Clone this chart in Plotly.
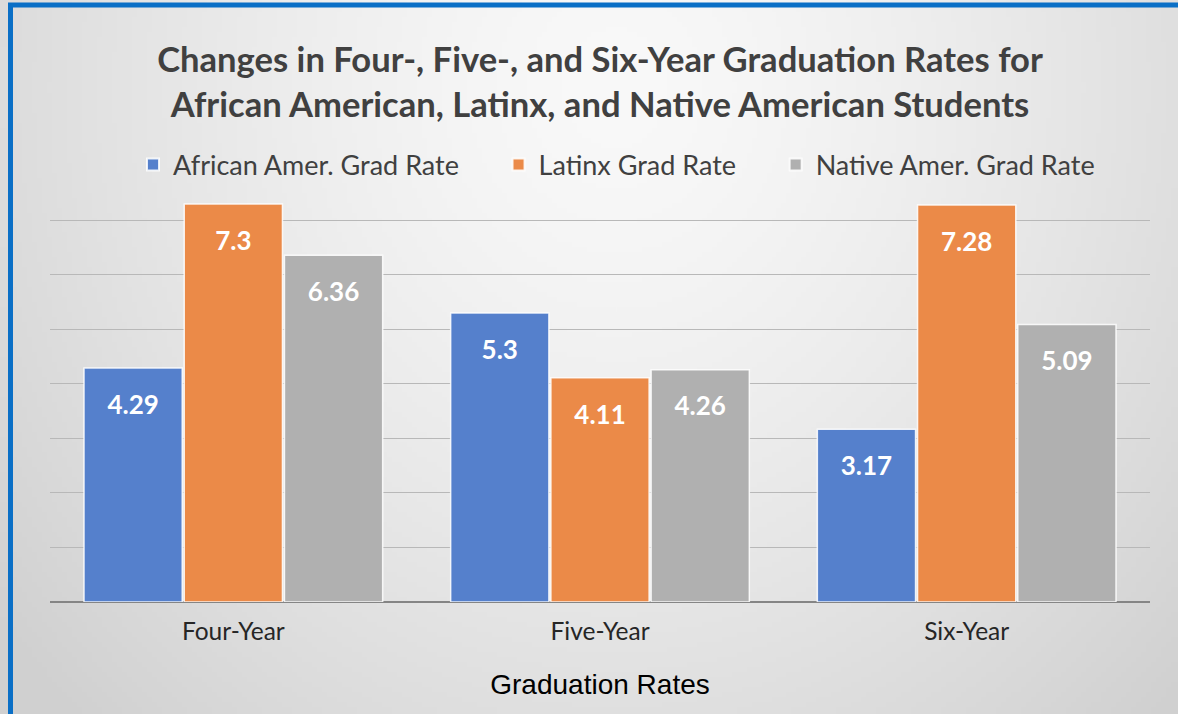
import base64
import struct
import zlib

import plotly.graph_objects as go

# ---------------- data ----------------
categories = ["Four-Year", "Five-Year", "Six-Year"]
african_amer = [4.29, 5.3, 3.17]
latinx = [7.3, 4.11, 7.28]
native_amer = [6.36, 4.26, 5.09]
series_names = ["African Amer. Grad Rate", "Latinx Grad Rate", "Native Amer. Grad Rate"]

title_text = ("Changes in Four-, Five-, and Six-Year Graduation Rates for<br>"
              "African American, Latinx, and Native American Students")
x_title = "Graduation Rates"

# ---------------- layout constants ----------------
W, H = 1178, 714
ML, MR, MT, MB = 50, 28, 193, 112
PW, PH = W - ML - MR, H - MT - MB

colors = ["#5580CC", "#EB8A48", "#B0B0B0"]
legend_pad = "&nbsp;" * 5  # extra spacing after legend entries


def px_x(p):
    return (p - ML) / PW


def px_y(p):
    return (H - MB - p) / PH


# ---------------- background gradient (pure-python PNG) ----------------
def gradient_png(w, h):
    rows = []
    cx, cy = 0.52 * w, 0.12 * h
    rx, ry = 0.62 * w, 1.15 * h
    for j in range(h):
        row = bytearray([0])
        for i in range(w):
            d = (((i - cx) / rx) ** 2 + ((j - cy) / ry) ** 2) ** 0.5
            v = int(max(208, min(249, 249 - 37 * d ** 1.4)))
            row += bytes([v, v, v])
        rows.append(bytes(row))
    raw = b"".join(rows)

    def chunk(t, d):
        return struct.pack(">I", len(d)) + t + d + struct.pack(">I", zlib.crc32(t + d) & 0xFFFFFFFF)

    return (b"\x89PNG\r\n\x1a\n"
            + chunk(b"IHDR", struct.pack(">IIBBBBB", w, h, 8, 2, 0, 0, 0))
            + chunk(b"IDAT", zlib.compress(raw, 9))
            + chunk(b"IEND", b""))


bg_uri = "data:image/png;base64," + base64.b64encode(gradient_png(236, 143)).decode()

# ---------------- figure ----------------
fig = go.Figure()
series_values = [african_amer, latinx, native_amer]
for k, (name, vals, col) in enumerate(zip(series_names, series_values, colors)):
    shown = name + (legend_pad if k < len(series_names) - 1 else "")
    fig.add_trace(go.Bar(
        name=shown,
        x=categories,
        y=vals,
        marker=dict(color=col, line=dict(color="rgba(255,255,255,0.85)", width=1.5)),
        text=vals,
        texttemplate="<span style='font-size:9px'>&nbsp;</span><br>%{y}",
        textposition="inside",
        insidetextanchor="end",
        textangle=0,
        textfont=dict(family="Lato", size=26, color="white", weight="bold"),
        hovertemplate=name + ": %{y}<extra></extra>",
    ))

fig.update_layout(
    width=W,
    height=H,
    margin=dict(l=ML, r=MR, t=MT, b=MB, pad=0),
    paper_bgcolor="#e6e6e6",
    plot_bgcolor="rgba(0,0,0,0)",
    barmode="group",
    bargap=0.18,
    bargroupgap=0.02,
    title=dict(
        text=title_text,
        x=0.5,
        xref="paper",
        xanchor="center",
        y=1 - 72 / H,
        yanchor="middle",
        font=dict(family="Lato", size=34.6, color="#404040", weight="bold"),
    ),
    legend=dict(
        orientation="h",
        x=0.515,
        xanchor="center",
        y=px_y(165),
        yanchor="middle",
        font=dict(family="Lato", size=27, color="#404040"),
        bgcolor="rgba(0,0,0,0)",
        itemsizing="constant",
    ),
    xaxis=dict(
        showgrid=False,
        showline=False,
        ticks="",
        ticklabelstandoff=12,
        tickfont=dict(family="Lato", size=24.5, color="#262626"),
        title=dict(text=x_title, font=dict(family="Liberation Sans, Arial", size=28, color="#000000"), standoff=30),
    ),
    yaxis=dict(
        range=[0, 7.5],
        dtick=1,
        showticklabels=False,
        showgrid=True,
        gridcolor="#b8b8b8",
        gridwidth=1.3,
        zeroline=True,
        zerolinecolor="#858585",
        zerolinewidth=1.6,
    ),
    images=[dict(
        source=bg_uri,
        xref="paper", yref="paper",
        x=px_x(0), y=px_y(0),
        sizex=W / PW, sizey=H / PH,
        sizing="stretch",
        xanchor="left", yanchor="top",
        layer="below",
    )],
    shapes=[dict(
        type="rect",
        xref="paper", yref="paper",
        x0=px_x(10.5), y0=px_y(5),
        x1=px_x(W + 20), y1=px_y(H + 20),
        line=dict(color="#0A6FC6", width=5),
        fillcolor="rgba(0,0,0,0)",
        layer="above",
    )],
)

fig.write_html("out.html")
